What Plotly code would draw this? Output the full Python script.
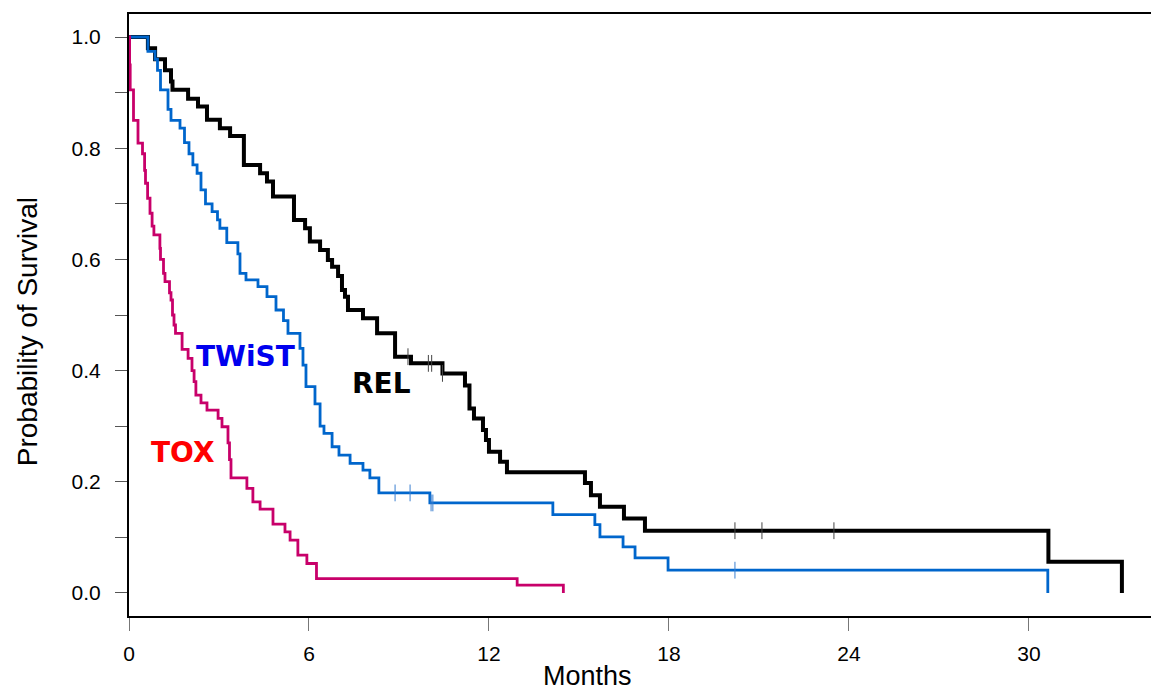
import plotly.graph_objects as go

# ---------------- data (months, survival probability after step) ----------------
rel_t = [0, 0.63, 0.87, 1.2, 1.4, 1.45, 1.97, 2.3, 2.6, 3.03, 3.37, 3.83, 4.37, 4.6, 4.8,
         5.5, 5.87, 6.03, 6.37, 6.63, 6.77, 6.97, 7.1, 7.2, 7.3, 7.8, 8.27, 8.87, 9.4,
         10.45, 11.2, 11.35, 11.5, 11.8, 11.9, 12.0, 12.37, 12.6, 15.2, 15.4, 15.7,
         16.5, 17.2, 30.65, 33.1]
rel_s = [1.0, 0.98, 0.96, 0.94, 0.92, 0.905, 0.889, 0.875, 0.851, 0.836, 0.822, 0.77, 0.755,
         0.74, 0.713, 0.671, 0.656, 0.632, 0.617, 0.599, 0.587, 0.57, 0.545, 0.533, 0.509,
         0.494, 0.467, 0.425, 0.413, 0.395, 0.373, 0.332, 0.314, 0.293, 0.275, 0.254,
         0.236, 0.217, 0.198, 0.176, 0.155, 0.134, 0.112, 0.056, 0.0]
rel_cens_t = [9.3, 9.98, 10.09, 10.45, 20.2, 21.1, 23.5]
rel_cens_s = [0.425, 0.413, 0.413, 0.395, 0.112, 0.112, 0.112]

twist_t = [0, 0.63, 0.87, 0.95, 1.05, 1.3, 1.4, 1.7, 1.85, 2.0, 2.13, 2.27, 2.4, 2.55,
           2.77, 2.95, 3.03, 3.26, 3.63, 3.7, 3.9, 4.3, 4.6, 4.9, 5.15, 5.3, 5.7, 5.8,
           5.9, 6.2, 6.37, 6.5, 6.77, 7.0, 7.37, 7.8, 8.03, 8.33, 10.03, 14.13, 15.53,
           15.7, 16.47, 16.87, 17.97, 30.63]
twist_s = [1.0, 0.974, 0.96, 0.94, 0.905, 0.87, 0.85, 0.836, 0.81, 0.79, 0.77, 0.755,
           0.725, 0.70, 0.686, 0.671, 0.656, 0.63, 0.61, 0.575, 0.563, 0.551, 0.533,
           0.509, 0.49, 0.467, 0.44, 0.41, 0.371, 0.34, 0.30, 0.287, 0.263, 0.248,
           0.233, 0.221, 0.207, 0.18, 0.162, 0.141, 0.123, 0.101, 0.083, 0.063, 0.041, 0.0]
twist_cens_t = [8.87, 9.37, 10.07, 10.13, 20.2]
twist_cens_s = [0.18, 0.18, 0.162, 0.162, 0.041]

tox_t = [0, 0.02, 0.04, 0.15, 0.3, 0.45, 0.52, 0.55, 0.62, 0.7, 0.77, 0.83, 1.03, 1.05,
         1.15, 1.2, 1.35, 1.4, 1.45, 1.5, 1.55, 1.77, 1.97, 2.1, 2.17, 2.23, 2.4, 2.6,
         2.97, 3.1, 3.3, 3.35, 3.4, 3.93, 4.13, 4.37, 4.8, 5.2, 5.37, 5.63, 5.93, 6.25,
         12.94, 14.48]
tox_s = [1.0, 0.95, 0.905, 0.85, 0.809, 0.79, 0.76, 0.737, 0.71, 0.683, 0.66, 0.644, 0.62,
         0.60, 0.575, 0.56, 0.54, 0.527, 0.50, 0.482, 0.467, 0.438, 0.422, 0.40, 0.38,
         0.356, 0.342, 0.329, 0.314, 0.299, 0.27, 0.24, 0.207, 0.188, 0.164, 0.151, 0.124,
         0.11, 0.095, 0.068, 0.053, 0.026, 0.014, 0.0]

x_ticks = [0, 6, 12, 18, 24, 30]
y_ticks = [0, 0.1, 0.2, 0.3, 0.4, 0.5, 0.6, 0.7, 0.8, 0.9, 1.0]
y_ticktext = ["0.0", "", "0.2", "", "0.4", "", "0.6", "", "0.8", "", "1.0"]

labels = ["REL", "TWiST", "TOX"]
label_x = [8.43, 3.87, 1.8]
label_y = [0.376, 0.426, 0.252]
label_colors = ["#000000", "#0000ee", "#ff0000"]

# ---------------- figure ----------------
fig = go.Figure()

fig.add_trace(go.Scatter(x=rel_t, y=rel_s, mode="lines", line=dict(shape="hv", color="#000000", width=4),
                         hoverinfo="skip", showlegend=False))
fig.add_trace(go.Scatter(x=rel_cens_t, y=rel_cens_s, mode="markers",
                         marker=dict(symbol="line-ns-open", size=12, color="#444444", line=dict(width=1)),
                         hoverinfo="skip", showlegend=False))
fig.add_trace(go.Scatter(x=twist_t, y=twist_s, mode="lines", line=dict(shape="hv", color="#0066cc", width=2.8),
                         hoverinfo="skip", showlegend=False))
fig.add_trace(go.Scatter(x=twist_cens_t, y=twist_cens_s, mode="markers",
                         marker=dict(symbol="line-ns-open", size=12, color="#3a7fd0", line=dict(width=1)),
                         hoverinfo="skip", showlegend=False))
fig.add_trace(go.Scatter(x=tox_t, y=tox_s, mode="lines", line=dict(shape="hv", color="#c8006a", width=2.8),
                         hoverinfo="skip", showlegend=False))

for name, lx, ly, col in zip(labels, label_x, label_y, label_colors):
    fig.add_annotation(x=lx, y=ly, xref="x", yref="y", text="<b>%s</b>" % name, showarrow=False,
                       font=dict(family="DejaVu Sans", size=28, color=col),
                       xanchor="center", yanchor="middle")

# axis titles
fig.add_annotation(x=15.3, y=0, xref="x", yref="paper", text="Months", showarrow=False,
                   font=dict(family="Liberation Sans, Arial", size=27, color="#000000"),
                   xanchor="center", yanchor="middle", yshift=-60)
fig.add_annotation(x=0, y=0.469, xref="paper", yref="y", text="Probability of Survival", showarrow=False,
                   textangle=-90, font=dict(family="Liberation Sans, Arial", size=28, color="#000000"),
                   xanchor="center", yanchor="middle", xshift=-102)

fig.update_xaxes(range=[0, 34.07], tickvals=x_ticks, ticktext=[str(v) for v in x_ticks],
                 showgrid=False, zeroline=False, showline=True, linecolor="#000000", linewidth=2,
                 mirror=True, ticks="outside", ticklen=13, tickwidth=1, tickcolor="#777777",
                 ticklabelstandoff=5,
                 tickfont=dict(family="Liberation Sans, Arial", size=21, color="#000000"))
fig.update_yaxes(range=[-0.0414, 1.0414], tickvals=y_ticks, ticktext=y_ticktext,
                 showgrid=False, zeroline=False, showline=True, linecolor="#000000", linewidth=2,
                 ticks="outside", ticklen=12, tickwidth=1, tickcolor="#555555",
                 ticklabelstandoff=10,
                 tickfont=dict(family="Liberation Sans, Arial", size=21, color="#000000"))

fig.update_layout(width=1151, height=694, margin=dict(l=129, r=0, t=14, b=78),
                  plot_bgcolor="#ffffff", paper_bgcolor="#ffffff", showlegend=False)

fig.write_html("out.html", config={"displayModeBar": False},
               post_script="document.body.style.margin='0';document.body.style.overflow='hidden';")
